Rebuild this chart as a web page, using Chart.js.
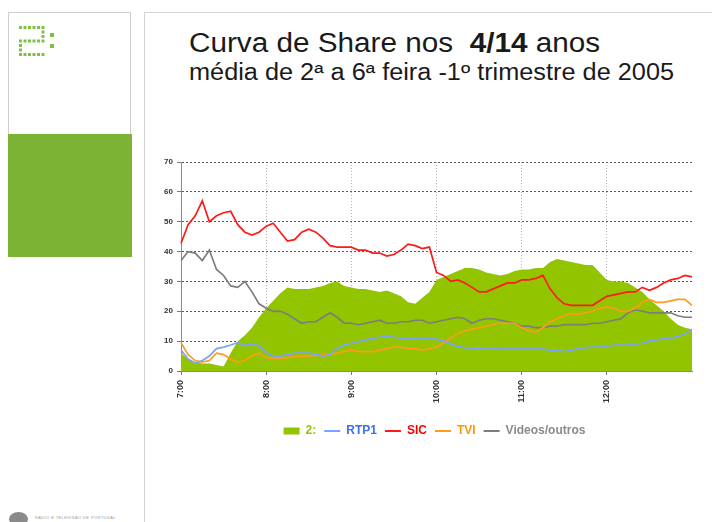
<!DOCTYPE html>
<html>
<head>
<meta charset="utf-8">
<script src="https://cdn.jsdelivr.net/npm/chart.js@4.4.1/dist/chart.umd.min.js"></script>
<style>
body { margin: 0; width: 712px; height: 522px; overflow: hidden; background: #fff; position: relative; font-family: "Liberation Sans", Arial, sans-serif; }
#side { position: absolute; left: 8px; top: 12px; width: 123px; height: 245px; border: 1px solid #cfcfcf; border-bottom: none; box-sizing: border-box; }
#band { position: absolute; left: 8px; top: 134px; width: 124px; height: 123px; background: #7cb335; }
#main { position: absolute; left: 144px; top: 12px; width: 600px; height: 530px; border-left: 1px solid #d2d2d2; border-top: 1px solid #d2d2d2; }
#logo { position: absolute; left: 16px; top: 24px; }
#title { position: absolute; left: 189px; top: 30px; font-size: 27px; line-height: 27px; color: #1a1a1a; white-space: pre; transform: scaleX(1.1); transform-origin: 0 0; }
#sub { position: absolute; left: 189px; top: 61px; font-size: 23px; line-height: 23px; color: #1a1a1a; white-space: pre; transform: scaleX(1.1); transform-origin: 0 0; }
#rtp { position: absolute; left: 9px; top: 512px; width: 19px; height: 14px; border-radius: 50%; background: #8a8a8a; }
#rtptxt { position: absolute; left: 35px; top: 515px; font-size: 4px; color: #999; letter-spacing: 0.4px; }
#c { position: absolute; left: 145px; top: 150px; }
</style>
</head>
<body>
<div id="side"></div>
<div id="band"></div>
<div id="main"></div>
<canvas id="logo" width="44" height="34"></canvas>
<div id="title">Curva de Share nos  <b>4/14</b> anos</div>
<div id="sub">média de 2ª a 6ª feira -1º trimestre de 2005</div>
<div id="rtp"></div>
<div id="rtptxt">RÁDIO E TELEVISÃO DE PORTUGAL</div>
<canvas id="c" width="567" height="300"></canvas>
<script>
const times = [
    '7:00', '7:05', '7:10', '7:15', '7:20', '7:25', '7:30', '7:35', '7:40', '7:45', '7:50', '7:55',
    '8:00', '8:05', '8:10', '8:15', '8:20', '8:25', '8:30', '8:35', '8:40', '8:45', '8:50', '8:55',
    '9:00', '9:05', '9:10', '9:15', '9:20', '9:25', '9:30', '9:35', '9:40', '9:45', '9:50', '9:55',
    '10:00', '10:05', '10:10', '10:15', '10:20', '10:25', '10:30', '10:35', '10:40', '10:45', '10:50', '10:55',
    '11:00', '11:05', '11:10', '11:15', '11:20', '11:25', '11:30', '11:35', '11:40', '11:45', '11:50', '11:55',
    '12:00', '12:05', '12:10', '12:15', '12:20', '12:25', '12:30', '12:35', '12:40', '12:45', '12:50', '12:55',
    '13:00'
];
const hourLabels = ['7:00', '8:00', '9:00', '10:00', '11:00', '12:00'];
const yTicks = [0, 10, 20, 30, 40, 50, 60, 70];
const names = ['2:', 'RTP1', 'SIC', 'TVI', 'Videos/outros'];

const share2 = [
    6, 4, 3, 2.5, 2.5, 2, 1.5, 6, 10, 12, 14.5, 18,
    21, 23.5, 26, 28, 27.5, 27.5, 27.5, 28, 28.5, 29.5, 30, 28.5,
    28, 27.5, 27.5, 27, 26.5, 27, 26, 25, 23, 22.5, 24.5, 26.5,
    30.5, 31.5, 32.5, 33.5, 34.5, 34.5, 34, 33, 32.5, 32, 32.5, 33.5,
    34, 34, 34.5, 34.5, 36.5, 37.5, 37, 36.5, 36, 35.5, 35.5, 33,
    30.5, 30, 30, 29.5, 28, 26.5, 24, 22, 20, 17.5, 15.5, 14.5,
    14
];
const rtp1 = [
    7, 4, 2.6, 3.5, 5, 7.5, 8, 8.7, 9.5, 8.5, 9, 8.5,
    6, 5, 5, 5.5, 6, 6, 6, 5.5, 5, 5.5, 7.5, 8.7,
    9.3, 9.8, 10.4, 10.9, 11.3, 11.5, 11.3, 11, 10.9, 10.9, 10.9, 10.9,
    10.6, 10.2, 9, 8.2, 7.8, 7.6, 7.6, 7.8, 7.6, 7.6, 7.6, 7.6,
    7.6, 7.6, 7.6, 7.4, 7, 6.8, 6.5, 7, 7.5, 7.8, 8, 8,
    8.2, 8.7, 8.7, 8.7, 9, 9.3, 10, 10.4, 10.8, 11, 11.5, 12.5,
    13.7
];
const sic = [
    42.7, 49, 52, 57, 50, 52, 53, 53.5, 49, 46.5, 45.5, 46.5,
    48.5, 49.5, 46.5, 43.5, 44, 46.5, 47.5, 46.5, 44.5, 42, 41.5, 41.5,
    41.5, 40.5, 40.5, 39.5, 39.5, 38.5, 39, 40.5, 42.5, 42, 41, 41.5,
    33, 32, 30, 30.5, 29.5, 28, 26.5, 26.5, 27.5, 28.5, 29.5, 29.5,
    30.5, 30.5, 31, 32, 27.5, 24.5, 22.5, 22, 22, 22, 22, 23.5,
    25, 25.5, 26, 26.5, 26.5, 28, 27, 28, 29.5, 30.5, 31, 32,
    31.5
];
const tvi = [
    9.5, 5.5, 3.5, 3, 3.5, 6, 5.5, 4, 3, 3.5, 5, 6,
    4.5, 4.2, 4.2, 4.5, 4.8, 5, 5, 5.2, 5.4, 5.6, 6, 6.5,
    7, 6.5, 6.5, 6.5, 7, 7.5, 8, 8, 7.5, 7.5, 7, 7.5,
    8, 9.5, 11, 12.5, 13.5, 14, 14.5, 15, 15.5, 16, 16, 16,
    14.5, 13.5, 13, 14.5, 16.5, 17.5, 18.5, 19.3, 19, 19.5, 20, 21,
    21.5, 21, 20, 20, 21, 23, 24, 23, 23, 23.5, 24, 24,
    22
];
const outros = [
    37, 40, 39.5, 37, 40.5, 34, 32, 28.5, 28, 30, 26.5, 22.5,
    21, 20, 20, 19, 17.5, 16, 16.5, 16.5, 18, 19.5, 18, 16,
    16, 15.5, 16, 16.5, 17, 16, 16, 16.5, 16.5, 17, 17, 16,
    16.5, 17, 17.5, 18, 17.5, 16, 17, 17.5, 17.5, 17, 16.5, 16,
    15, 15, 14.5, 14.5, 15, 15, 15.5, 15.5, 15.5, 15.5, 16, 16,
    16.5, 17, 17.5, 19.5, 20.5, 20, 19.5, 19.5, 19.5, 19.5, 18.5, 18,
    18
];

const lineColors = ['#92c500', '#7aa3ff', '#ff1a1a', '#ff9a1a', '#7d7d7d'];
const textColors = ['#92c500', '#3d6ff5', '#ff0000', '#ff9900', '#8a8a8a'];

// dotted "2:" logo
function drawLogo() {
    const g = document.getElementById("logo").getContext("2d");
    const two = ['######', '.....#', '.....#', '######', '#.....', '#.....', '######'];
    g.fillStyle = '#7dc242';
    two.forEach((row, r) => {
        for (let k = 0; k < row.length; k++) {
            if (row[k] === '#') g.fillRect(3 + k * 4.5, 2 + r * 4.5, 3, 3);
        }
    });
    g.fillRect(34, 9, 4, 4);
    g.fillRect(34, 20, 4, 4);
}
drawLogo();

const isHour = i => hourLabels.includes(times[i]);

// legend box spans the whole canvas, nudge it so it sits like the original
const legendShift = {
    id: 'legendShift',
    afterLayout(chart) {
        chart.legend.left += 10;
        chart.legend.right += 10;
    }
};

const ctx = document.getElementById("c").getContext("2d");
new Chart(ctx, {
    type: 'line',
    data: {
        labels: times,
        datasets: [
            { label: names[0], data: share2, fill: 'origin', backgroundColor: lineColors[0], borderColor: lineColors[0], borderWidth: 0, order: 1 },
            { label: names[1], data: rtp1, fill: false, borderColor: lineColors[1], borderWidth: 1.7, order: 0 },
            { label: names[2], data: sic, fill: false, borderColor: lineColors[2], borderWidth: 1.7, order: 0 },
            { label: names[3], data: tvi, fill: false, borderColor: lineColors[3], borderWidth: 1.7, order: 0 },
            { label: names[4], data: outros, fill: false, borderColor: lineColors[4], borderWidth: 1.7, order: 0 }
        ]
    },
    plugins: [legendShift],
    options: {
        responsive: false,
        animation: false,
        devicePixelRatio: 1,
        elements: { point: { radius: 0 }, line: { tension: 0 } },
        layout: { padding: { left: 12, top: 12, right: 20, bottom: 3 } },
        scales: {
            x: {
                type: 'category',
                offset: false,
                grid: {
                    color: c => isHour(c.index) ? '#b5b5b5' : 'rgba(0,0,0,0)',
                    tickColor: c => isHour(c.index) ? '#777' : 'rgba(0,0,0,0)',
                    tickLength: 4
                },
                border: { color: '#8a8a8a', dash: [1, 2] },
                ticks: {
                    autoSkip: false,
                    minRotation: 90,
                    maxRotation: 90,
                    padding: 5,
                    color: '#333',
                    font: { size: 9, weight: 'bold', family: 'Liberation Sans' },
                    callback: (v, i) => isHour(i) ? times[i] : ''
                },
                afterFit: s => { s.height = 46; }
            },
            y: {
                min: 0,
                max: 70,
                afterBuildTicks: s => { s.ticks = yTicks.map(v => ({ value: v })); },
                grid: { color: '#5a5a5a', tickColor: '#777', tickLength: 4 },
                border: { color: '#8a8a8a', dash: [2, 2] },
                ticks: {
                    padding: 4,
                    color: '#333',
                    font: { size: 8, weight: 'bold', family: 'Liberation Sans' }
                },
                afterFit: s => { s.width = 24; }
            }
        },
        plugins: {
            tooltip: { enabled: false },
            legend: {
                position: 'bottom',
                labels: {
                    usePointStyle: true,
                    pointStyleWidth: 16,
                    boxHeight: 7,
                    padding: 8,
                    font: { size: 12, weight: 'bold', family: 'Liberation Sans' },
                    generateLabels: chart => chart.data.datasets.map((ds, i) => ({
                        text: ds.label,
                        fillStyle: lineColors[i],
                        strokeStyle: lineColors[i],
                        lineWidth: i === 0 ? 0 : 2,
                        pointStyle: i === 0 ? 'rect' : 'line',
                        fontColor: textColors[i],
                        hidden: false,
                        datasetIndex: i
                    }))
                }
            }
        }
    }
});
</script>
</body>
</html>
